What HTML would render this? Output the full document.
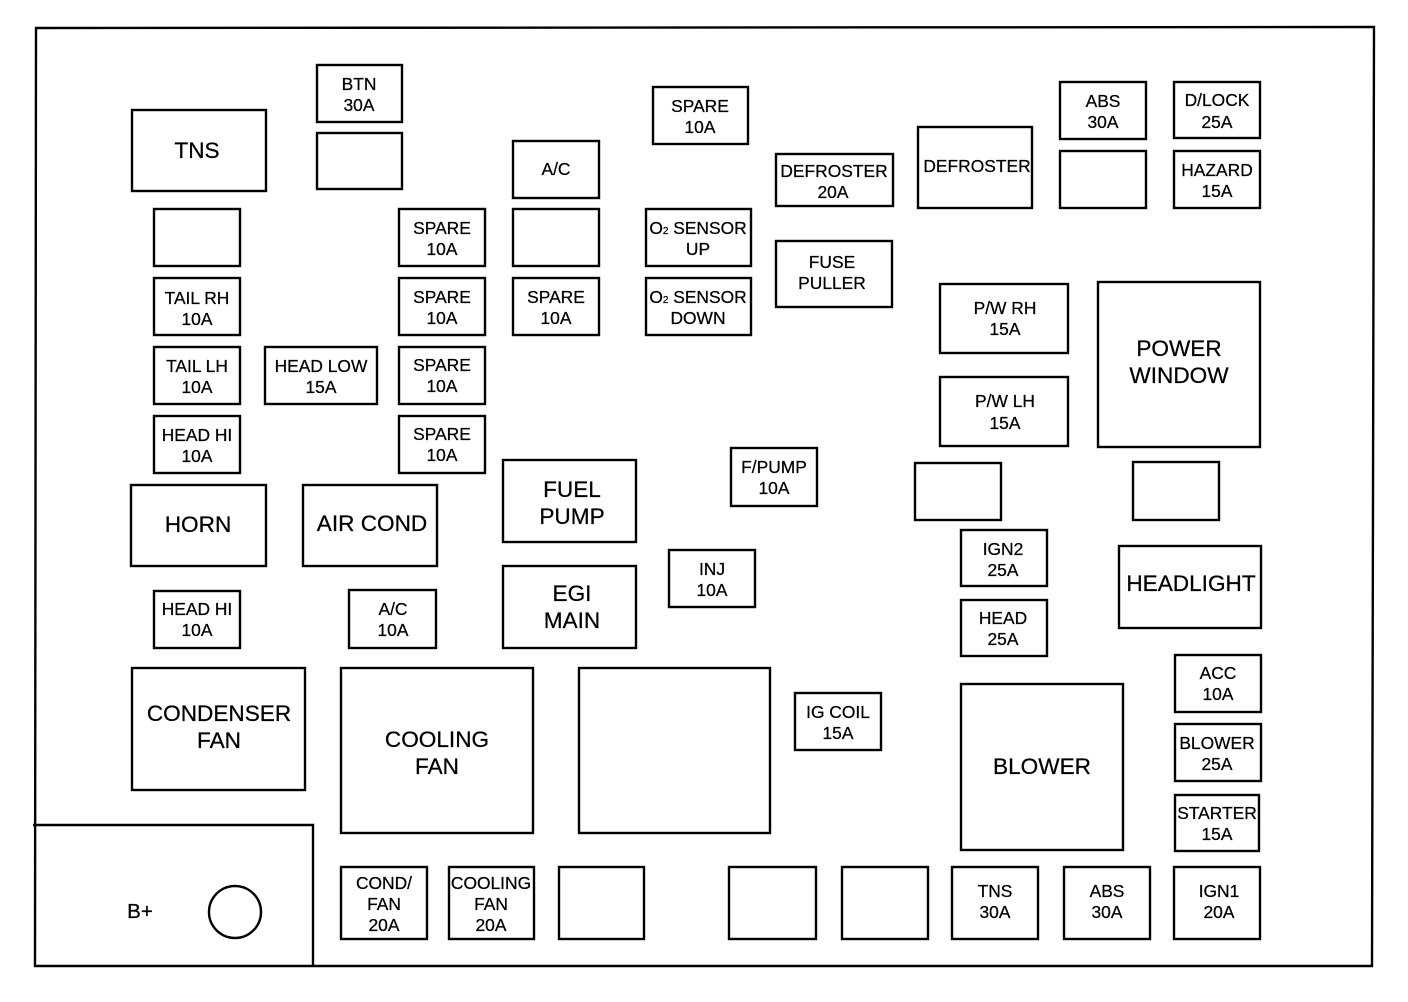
<!DOCTYPE html>
<html><head><meta charset="utf-8"><style>
html,body{margin:0;padding:0;background:#fff}
svg{display:block}
rect,circle{fill:none;stroke:#000;stroke-width:2.4}
text{font-family:"Liberation Sans",sans-serif;fill:#000;stroke:#000;stroke-width:.25;text-anchor:middle}
.s{font-size:17.4px}.m{font-size:22.6px}
</style></head><body>
<svg width="1408" height="1002" viewBox="0 0 1408 1002" xmlns="http://www.w3.org/2000/svg">
<path d="M36 28L1374 27L1372 966L35 966Z" fill="none" stroke="#000" stroke-width="2.4"/>
<path d="M33 825H313V966" fill="none" stroke="#000" stroke-width="2.4"/>
<circle cx="235" cy="912" r="26"/>
<text x="140" y="918" style="font-size:20.5px">B+</text>
<rect x="317" y="65" width="85" height="57"/><text class="s" x="359" y="90">BTN</text><text class="s" x="359" y="111">30A</text>
<rect x="317" y="133" width="85" height="56"/>
<rect x="132" y="110" width="134" height="81"/><text class="m" x="197" y="158">TNS</text>
<rect x="154" y="209" width="86" height="57"/>
<rect x="154" y="278" width="86" height="57"/><text class="s" x="197" y="304">TAIL RH</text><text class="s" x="197" y="325">10A</text>
<rect x="154" y="347" width="86" height="57"/><text class="s" x="197" y="372">TAIL LH</text><text class="s" x="197" y="393">10A</text>
<rect x="154" y="416" width="86" height="57"/><text class="s" x="197" y="441">HEAD HI</text><text class="s" x="197" y="462">10A</text>
<rect x="265" y="347" width="112" height="57"/><text class="s" x="321" y="372">HEAD LOW</text><text class="s" x="321" y="393">15A</text>
<rect x="399" y="209" width="86" height="57"/><text class="s" x="442" y="234">SPARE</text><text class="s" x="442" y="255">10A</text>
<rect x="399" y="278" width="86" height="57"/><text class="s" x="442" y="303">SPARE</text><text class="s" x="442" y="324">10A</text>
<rect x="399" y="347" width="86" height="57"/><text class="s" x="442" y="371">SPARE</text><text class="s" x="442" y="392">10A</text>
<rect x="399" y="416" width="86" height="57"/><text class="s" x="442" y="440">SPARE</text><text class="s" x="442" y="461">10A</text>
<rect x="513" y="141" width="86" height="57"/><text class="s" x="556" y="175">A/C</text>
<rect x="513" y="209" width="86" height="57"/>
<rect x="513" y="278" width="86" height="57"/><text class="s" x="556" y="303">SPARE</text><text class="s" x="556" y="324">10A</text>
<rect x="653" y="87" width="95" height="57"/><text class="s" x="700" y="112">SPARE</text><text class="s" x="700" y="133">10A</text>
<rect x="646" y="209" width="105" height="57"/><text class="s" x="698" y="234">O<tspan font-size="10">2</tspan> SENSOR</text><text class="s" x="698" y="255">UP</text>
<rect x="646" y="278" width="105" height="57"/><text class="s" x="698" y="303">O<tspan font-size="10">2</tspan> SENSOR</text><text class="s" x="698" y="324">DOWN</text>
<rect x="776" y="154" width="117" height="52"/><text class="s" x="834" y="177">DEFROSTER</text><text class="s" x="833" y="198">20A</text>
<rect x="776" y="241" width="116" height="66"/><text class="s" x="832" y="268">FUSE</text><text class="s" x="832" y="289">PULLER</text>
<rect x="918" y="127" width="114" height="81"/><text class="s" x="977" y="172">DEFROSTER</text>
<rect x="1060" y="82" width="86" height="57"/><text class="s" x="1103" y="107">ABS</text><text class="s" x="1103" y="128">30A</text>
<rect x="1060" y="151" width="86" height="57"/>
<rect x="1174" y="82" width="86" height="56"/><text class="s" x="1217" y="106">D/LOCK</text><text class="s" x="1217" y="128">25A</text>
<rect x="1174" y="151" width="86" height="57"/><text class="s" x="1217" y="176">HAZARD</text><text class="s" x="1217" y="197">15A</text>
<rect x="940" y="284" width="128" height="69"/><text class="s" x="1005" y="314">P/W RH</text><text class="s" x="1005" y="335">15A</text>
<rect x="940" y="377" width="128" height="69"/><text class="s" x="1005" y="407">P/W LH</text><text class="s" x="1005" y="429">15A</text>
<rect x="1098" y="282" width="162" height="165"/><text class="m" x="1179" y="356">POWER</text><text class="m" x="1179" y="383">WINDOW</text>
<rect x="915" y="463" width="86" height="57"/>
<rect x="1133" y="462" width="86" height="58"/>
<rect x="131" y="485" width="135" height="81"/><text class="m" x="198" y="532">HORN</text>
<rect x="303" y="485" width="134" height="81"/><text class="m" x="372" y="531">AIR COND</text>
<rect x="503" y="460" width="133" height="82"/><text class="m" x="572" y="497">FUEL</text><text class="m" x="572" y="524">PUMP</text>
<rect x="503" y="566" width="133" height="82"/><text class="m" x="572" y="601">EGI</text><text class="m" x="572" y="628">MAIN</text>
<rect x="731" y="448" width="86" height="58"/><text class="s" x="774" y="473">F/PUMP</text><text class="s" x="774" y="494">10A</text>
<rect x="669" y="550" width="86" height="57"/><text class="s" x="712" y="575">INJ</text><text class="s" x="712" y="596">10A</text>
<rect x="961" y="530" width="86" height="56"/><text class="s" x="1003" y="555">IGN2</text><text class="s" x="1003" y="576">25A</text>
<rect x="961" y="600" width="86" height="56"/><text class="s" x="1003" y="624">HEAD</text><text class="s" x="1003" y="645">25A</text>
<rect x="1119" y="546" width="142" height="82"/><text class="m" x="1191" y="591">HEADLIGHT</text>
<rect x="154" y="591" width="86" height="57"/><text class="s" x="197" y="615">HEAD HI</text><text class="s" x="197" y="636">10A</text>
<rect x="349" y="590" width="87" height="58"/><text class="s" x="393" y="615">A/C</text><text class="s" x="393" y="636">10A</text>
<rect x="132" y="668" width="173" height="122"/><text class="m" x="219" y="721">CONDENSER</text><text class="m" x="219" y="748">FAN</text>
<rect x="341" y="668" width="192" height="165"/><text class="m" x="437" y="747">COOLING</text><text class="m" x="437" y="774">FAN</text>
<rect x="579" y="668" width="191" height="165"/>
<rect x="795" y="693" width="86" height="57"/><text class="s" x="838" y="718">IG COIL</text><text class="s" x="838" y="739">15A</text>
<rect x="961" y="684" width="162" height="166"/><text class="m" x="1042" y="774">BLOWER</text>
<rect x="1175" y="655" width="86" height="57"/><text class="s" x="1218" y="679">ACC</text><text class="s" x="1218" y="700">10A</text>
<rect x="1175" y="724" width="86" height="57"/><text class="s" x="1217" y="749">BLOWER</text><text class="s" x="1217" y="770">25A</text>
<rect x="1175" y="795" width="84" height="56"/><text class="s" x="1217" y="819">STARTER</text><text class="s" x="1217" y="840">15A</text>
<rect x="341" y="867" width="86" height="72"/><text class="s" x="384" y="889">COND/</text><text class="s" x="384" y="910">FAN</text><text class="s" x="384" y="931">20A</text>
<rect x="449" y="867" width="85" height="72"/><text class="s" x="491" y="889">COOLING</text><text class="s" x="491" y="910">FAN</text><text class="s" x="491" y="931">20A</text>
<rect x="559" y="867" width="85" height="72"/>
<rect x="729" y="867" width="87" height="72"/>
<rect x="842" y="867" width="86" height="72"/>
<rect x="952" y="867" width="86" height="72"/><text class="s" x="995" y="897">TNS</text><text class="s" x="995" y="918">30A</text>
<rect x="1064" y="867" width="86" height="72"/><text class="s" x="1107" y="897">ABS</text><text class="s" x="1107" y="918">30A</text>
<rect x="1174" y="867" width="86" height="72"/><text class="s" x="1219" y="897">IGN1</text><text class="s" x="1219" y="918">20A</text>
</svg>
</body></html>
